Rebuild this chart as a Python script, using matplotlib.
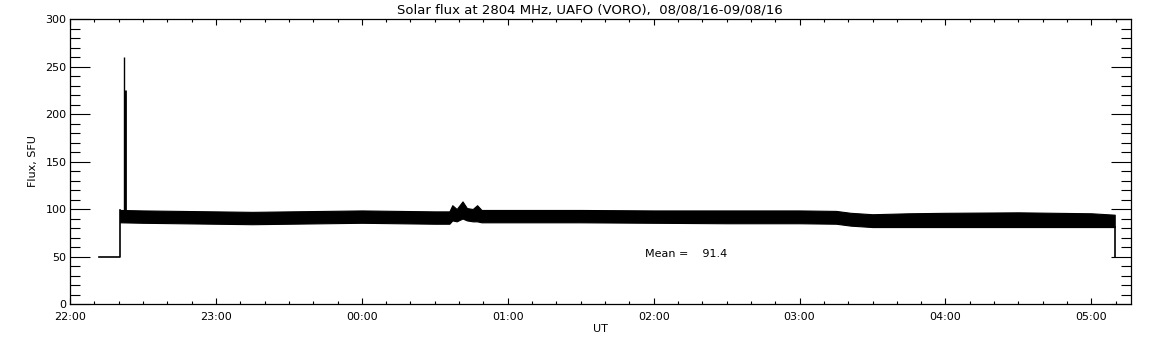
import matplotlib
matplotlib.use("Agg")
import matplotlib.pyplot as plt
from matplotlib.ticker import MultipleLocator, FixedLocator

# time in hours since 22:00 UT on 08/08/16
tick_hours = [0, 1, 2, 3, 4, 5, 6, 7]
tick_labels = ["22:00", "23:00", "00:00", "01:00", "02:00", "03:00", "04:00", "05:00"]

# pre-observation baseline and end drop
base_t = [0.20, 0.343]
base_v = [50, 50]
end_t = 7.160
end_v = 50

# noisy band envelope (lower/upper)
band_t = [0.343, 0.50, 0.75, 1.00, 1.25, 1.50, 1.75, 2.00, 2.25, 2.50, 2.60,
          2.62, 2.65, 2.69, 2.72, 2.76, 2.79, 2.82, 3.00, 3.50, 4.00, 4.50,
          5.00, 5.25, 5.35, 5.50, 5.75, 6.00, 6.50, 7.00, 7.160]
band_lo = [86, 85.5, 85, 84.5, 84, 84.5, 85, 85.5, 85, 84.5, 84.5,
           88, 87, 90, 88, 87, 87, 86, 86, 86, 85.5, 85,
           85, 84.5, 82.5, 81, 81, 81, 81, 81, 81]
band_hi = [99, 98.5, 98, 97.5, 97, 97.5, 98, 98.5, 98, 97.5, 97.5,
           104, 100, 108, 101, 100, 104, 99, 99, 99, 98.5, 98.5,
           98.5, 98, 96, 94.5, 95.5, 96, 96.5, 95.5, 94]

# burst spikes
spike_t = [0.372, 0.379]
spike_v = [260, 225]

mean_flux = 91.4

plt.rcParams['font.family'] = ['DejaVu Sans']
fig = plt.figure(figsize=(11.52, 3.45), dpi=100)
ax = fig.add_axes([0.0608, 0.1188, 0.9214, 0.8261])

ax.fill_between(band_t, band_lo, band_hi, color='black', linewidth=0.8)
ax.plot(base_t + [base_t[-1]], base_v + [band_hi[0]], color='black', lw=1.2)
ax.plot([end_t, end_t], [band_lo[-1], end_v], color='black', lw=1.2)
ax.vlines(spike_t[0], band_hi[0], spike_v[0], color='black', lw=1.0)
ax.vlines(spike_t[1], band_hi[0], spike_v[1], color='black', lw=2.0)

ax.set_xlim(0, 7.275)
ax.set_ylim(0, 300)

ax.xaxis.set_major_locator(FixedLocator(tick_hours))
ax.set_xticklabels(tick_labels)
ax.xaxis.set_minor_locator(MultipleLocator(1/6))
ax.yaxis.set_major_locator(MultipleLocator(50))
ax.yaxis.set_minor_locator(MultipleLocator(10))

ax.tick_params(axis='x', which='major', direction='in', length=4.3, width=0.8,
               top=True, bottom=True, labelsize=8, pad=6)
ax.tick_params(axis='x', which='minor', direction='in', length=2.2, width=0.8,
               top=True, bottom=True)
ax.tick_params(axis='y', which='major', direction='in', length=14.4, width=0.8,
               left=True, right=True, labelsize=8, pad=2.5)
ax.tick_params(axis='y', which='minor', direction='in', length=7.2, width=0.8,
               left=True, right=True)
for s in ax.spines.values():
    s.set_linewidth(0.9)

ax.set_title("Solar flux at 2804 MHz, UAFO (VORO),  08/08/16-09/08/16",
             fontsize=9.5, pad=4, x=0.49)
ax.set_xlabel("UT", fontsize=8, labelpad=1)
ax.set_ylabel("Flux, SFU", fontsize=8, labelpad=5)

ax.text(3.94, 49.5, "Mean =    %.1f" % mean_flux, fontsize=8, va='baseline', ha='left')

fig.savefig("out.png", dpi=100)
